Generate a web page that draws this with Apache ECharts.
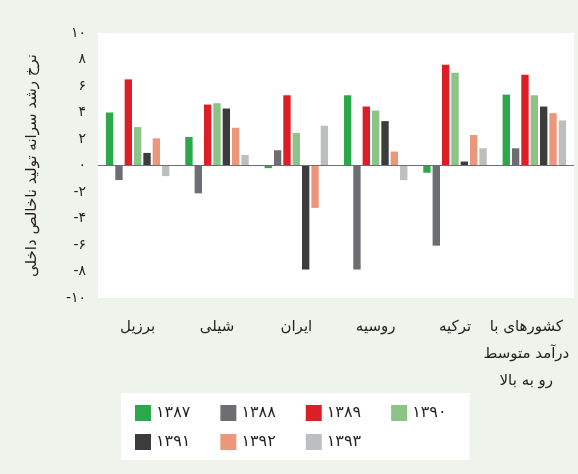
<!DOCTYPE html>
<html>
<head>
<meta charset="utf-8">
<script src="https://cdn.jsdelivr.net/npm/echarts@6/dist/echarts.min.js"></script>
<style>
html,body{margin:0;padding:0;background:#eef4ec;}
#c{width:578px;height:474px;}
</style>
</head>
<body>
<div id="c"></div>
<script>
const categories = ['برزیل', 'شیلی', 'ایران', 'روسیه', 'ترکیه', 'کشورهای با\nدرآمد متوسط\nرو به بالا'];
const seriesNames = ['۱۳۸۷', '۱۳۸۸', '۱۳۸۹', '۱۳۹۰', '۱۳۹۱', '۱۳۹۲', '۱۳۹۳'];
const y1387 = [4.0, 2.15, -0.2, 5.3, -0.55, 5.35];
const y1388 = [-1.1, -2.1, 1.15, -7.85, -6.05, 1.3];
const y1389 = [6.5, 4.6, 5.3, 4.45, 7.6, 6.85];
const y1390 = [2.9, 4.7, 2.45, 4.15, 7.0, 5.3];
const y1391 = [0.95, 4.3, -7.85, 3.35, 0.3, 4.45];
const y1392 = [2.05, 2.85, -3.2, 1.05, 2.3, 3.95];
const y1393 = [-0.8, 0.8, 3.0, -1.1, 1.3, 3.4];
const yAxisTitle = 'نرخ رشد سرانه تولید ناخالص داخلی';

const colors = ['#2ba84a', '#6d6e71', '#dc1f26', '#8dc386', '#3c3c3c', '#ec967b', '#bcbec0'];
const values = [y1387, y1388, y1389, y1390, y1391, y1392, y1393];
const faDigits = '۰۱۲۳۴۵۶۷۸۹';
function toFa(v) { return String(v).replace(/[0-9]/g, d => faDigits[+d]); }
const FONT = 'DejaVu Sans';

const series = seriesNames.map((name, i) => {
  const s = {
    name: name,
    type: 'bar',
    data: values[i],
    barGap: '27%',
    barCategoryGap: '20%',
    itemStyle: { color: colors[i] }
  };
  if (i === 0) {
    s.markLine = {
      silent: true,
      symbol: 'none',
      label: { show: false },
      lineStyle: { color: '#6d6e71', width: 1, type: 'solid' },
      data: [{ yAxis: 0 }]
    };
  }
  return s;
});

const legendText = { fontSize: 16, color: '#231f20', fontFamily: FONT };

const chart = echarts.init(document.getElementById('c'), null, { renderer: 'canvas' });
chart.setOption({
  backgroundColor: '#eef4ec',
  animation: false,
  textStyle: { fontFamily: FONT },
  grid: {
    left: 98, right: 4, top: 33, bottom: 176,
    containLabel: false,
    outerBoundsMode: 'none',
    show: true, backgroundColor: '#ffffff', borderWidth: 0
  },
  legend: [{
    left: 121, top: 393,
    width: 500,
    z: 2,
    backgroundColor: '#ffffff',
    padding: [12, 23, 39, 14],
    itemWidth: 16, itemHeight: 16,
    itemGap: 30,
    icon: 'rect',
    textStyle: legendText,
    data: seriesNames.slice(0, 4)
  }, {
    left: 135, top: 434,
    width: 500,
    z: 3,
    padding: 0,
    itemWidth: 16, itemHeight: 16,
    itemGap: 30,
    icon: 'rect',
    textStyle: legendText,
    data: seriesNames.slice(4)
  }],
  xAxis: {
    type: 'category',
    data: categories,
    axisLine: { show: false, onZero: false },
    axisTick: { show: false },
    axisLabel: {
      interval: 0,
      margin: 16,
      fontSize: 15,
      lineHeight: 27,
      color: '#231f20',
      fontFamily: FONT,
      formatter: function (v, idx) {
        return idx === 5 ? '{s|' + v + '}' : v;
      },
      rich: {
        s: { fontSize: 15, lineHeight: 27, color: '#231f20', fontFamily: FONT, padding: [0, 16, 0, 0], align: 'center' }
      }
    }
  },
  yAxis: {
    type: 'value',
    min: -10, max: 10, interval: 2,
    name: yAxisTitle,
    nameLocation: 'middle',
    nameRotate: 90,
    nameGap: 58,
    nameTextStyle: { fontSize: 15, color: '#231f20', fontFamily: FONT },
    axisLine: { show: false },
    axisTick: { show: false },
    splitLine: { show: false },
    axisLabel: {
      margin: 12,
      fontSize: 14,
      color: '#231f20',
      fontFamily: FONT,
      formatter: function (v) { return v < 0 ? '-' + toFa(-v) : toFa(v); }
    }
  },
  series: series
});
</script>
</body>
</html>
